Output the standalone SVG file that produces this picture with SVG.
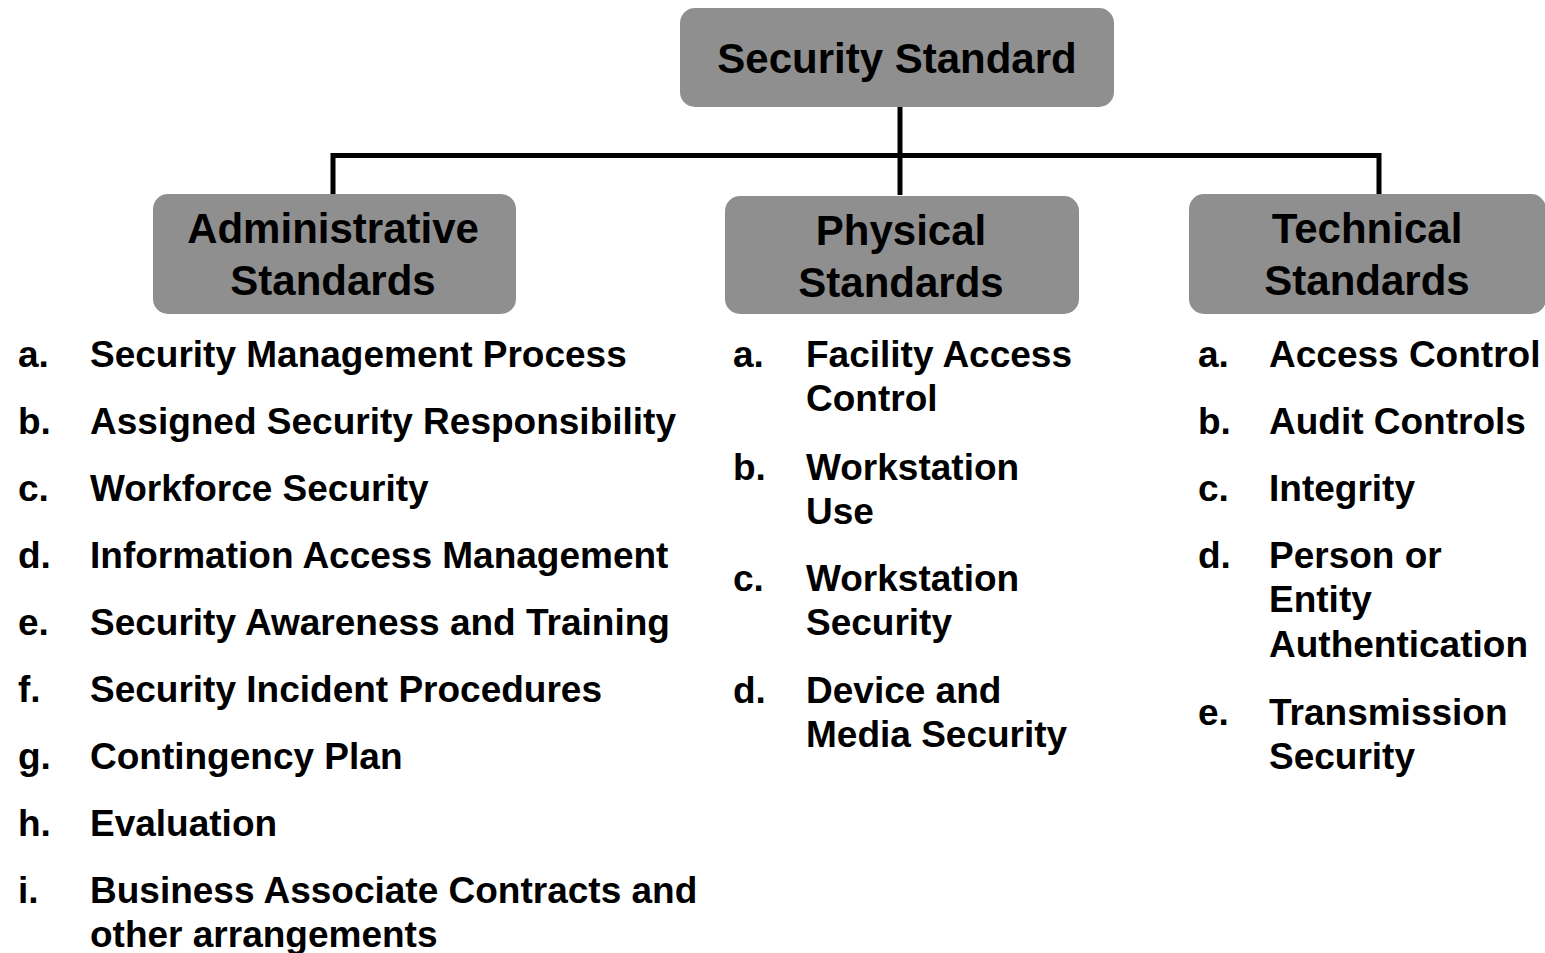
<svg xmlns="http://www.w3.org/2000/svg" width="1545" height="953" viewBox="0 0 1545 953">
<style>
.box{fill:#8f8f8f;stroke:none}
.h{font-family:"Liberation Sans",Arial,sans-serif;font-weight:bold;font-size:42px;fill:#000;text-anchor:middle}
.t{font-family:"Liberation Sans",Arial,sans-serif;font-weight:bold;font-size:37px;fill:#000}
.c{fill:none;stroke:#000;stroke-width:5}
</style>
<rect width="1545" height="953" fill="#fff"/>
<g id="connectors">
<path class="c" d="M900 106 V195"/>
<path class="c" d="M333 195 V155.5 H1379 V195"/>
</g>
<g id="root">
<rect class="box" x="680" y="8" width="434" height="99" rx="15"/>
<text class="h" x="897" y="73">Security Standard</text>
</g>
<g id="admin">
<rect class="box" x="153" y="194" width="363" height="120" rx="15"/>
<text class="h" x="333" y="243">Administrative</text>
<text class="h" x="333" y="295">Standards</text>
</g>
<g id="physical">
<rect class="box" x="725" y="196" width="354" height="118" rx="15"/>
<text class="h" x="901" y="245">Physical</text>
<text class="h" x="901" y="297">Standards</text>
</g>
<g id="technical">
<rect class="box" x="1189" y="194" width="357" height="120" rx="15"/>
<text class="h" x="1367" y="243">Technical</text>
<text class="h" x="1367" y="295">Standards</text>
</g>
<g id="admin-list">
<text class="t" x="18" y="367">a.</text><text class="t" x="90" y="367">Security Management Process</text>
<text class="t" x="18" y="434">b.</text><text class="t" x="90" y="434">Assigned Security Responsibility</text>
<text class="t" x="18" y="501">c.</text><text class="t" x="90" y="501">Workforce Security</text>
<text class="t" x="18" y="568">d.</text><text class="t" x="90" y="568">Information Access Management</text>
<text class="t" x="18" y="635">e.</text><text class="t" x="90" y="635">Security Awareness and Training</text>
<text class="t" x="18" y="702">f.</text><text class="t" x="90" y="702">Security Incident Procedures</text>
<text class="t" x="18" y="769">g.</text><text class="t" x="90" y="769">Contingency Plan</text>
<text class="t" x="18" y="836">h.</text><text class="t" x="90" y="836">Evaluation</text>
<text class="t" x="18" y="903">i.</text><text class="t" x="90" y="903">Business Associate Contracts and</text>
<text class="t" x="90" y="947">other arrangements</text>
</g>
<g id="physical-list">
<text class="t" x="733" y="367">a.</text><text class="t" x="806" y="367">Facility Access</text>
<text class="t" x="806" y="411">Control</text>
<text class="t" x="733" y="480">b.</text><text class="t" x="806" y="480">Workstation</text>
<text class="t" x="806" y="524">Use</text>
<text class="t" x="733" y="591">c.</text><text class="t" x="806" y="591">Workstation</text>
<text class="t" x="806" y="635">Security</text>
<text class="t" x="733" y="703">d.</text><text class="t" x="806" y="703">Device and</text>
<text class="t" x="806" y="747">Media Security</text>
</g>
<g id="technical-list">
<text class="t" x="1198" y="367">a.</text><text class="t" x="1269" y="367">Access Control</text>
<text class="t" x="1198" y="434">b.</text><text class="t" x="1269" y="434">Audit Controls</text>
<text class="t" x="1198" y="501">c.</text><text class="t" x="1269" y="501">Integrity</text>
<text class="t" x="1198" y="568">d.</text><text class="t" x="1269" y="568">Person or</text>
<text class="t" x="1269" y="612">Entity</text>
<text class="t" x="1269" y="657">Authentication</text>
<text class="t" x="1198" y="725">e.</text><text class="t" x="1269" y="725">Transmission</text>
<text class="t" x="1269" y="769">Security</text>
</g>
</svg>
